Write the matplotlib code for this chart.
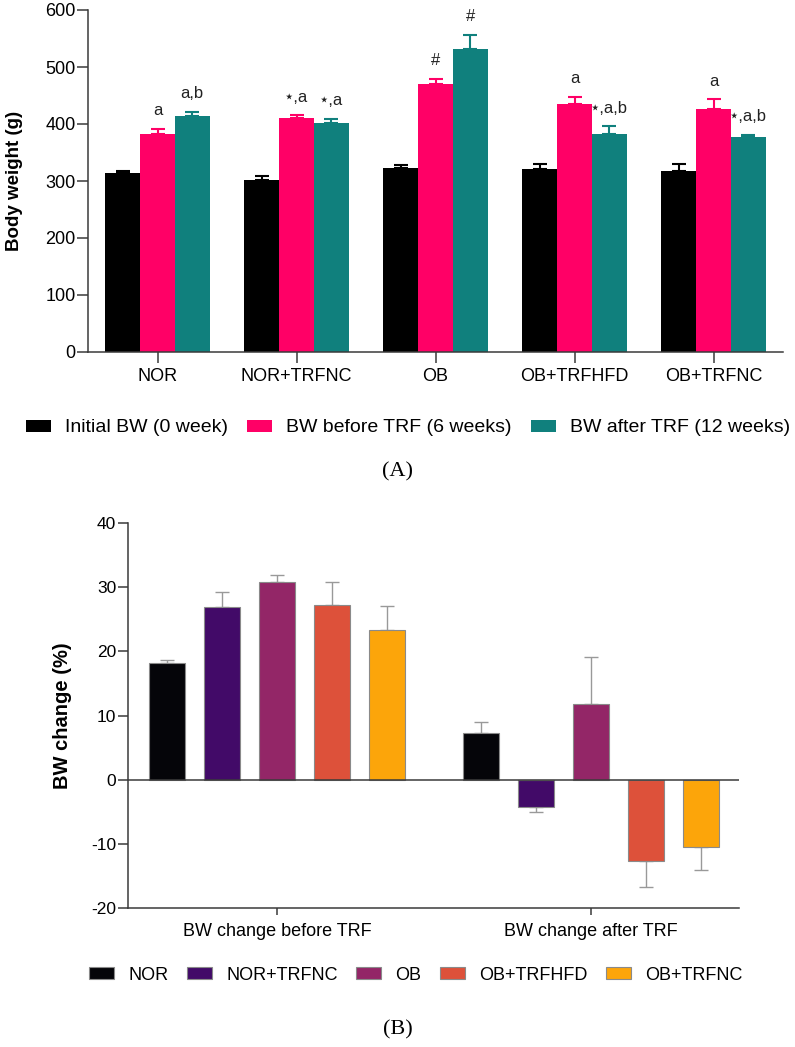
import matplotlib
matplotlib.use('Agg')
from matplotlib import pyplot as plt
import numpy as np

plt.rcParams['font.family'] = ['Liberation Sans', 'DejaVu Sans']
plt.rcParams['axes.unicode_minus'] = False

# Painel A - peso corporal (g)
groups = ['NOR', 'NOR+TRFNC', 'OB', 'OB+TRFHFD', 'OB+TRFNC']
initial_bw = [314, 302, 323, 321, 318]
initial_err = [4, 7, 5, 8, 12]
before_bw = [382, 411, 470, 435, 426]
before_err = [9, 4, 9, 12, 17]
after_bw = [414, 401, 532, 382, 377]
after_err = [7, 8, 24, 14, 4]
before_marks = ['a', '\u22c6,a', '#', 'a', 'a']
after_marks = ['a,b', '\u22c6,a', '#', '\u22c6,a,b', '\u22c6,a,b']
series_a = ['Initial BW (0 week)', 'BW before TRF (6 weeks)', 'BW after TRF (12 weeks)']

# Painel B - variacao do peso (%)
periods = ['BW change before TRF', 'BW change after TRF']
change_before = [18.2, 26.9, 30.8, 27.2, 23.3]
change_before_err = [0.4, 2.3, 1.1, 3.6, 3.7]
change_after = [7.3, -4.3, 11.8, -12.6, -10.5]
change_after_err = [1.7, 0.8, 7.3, 4.2, 3.5]

cores_a = ['#000000', '#ff0066', '#10807d']
cores_b = ['#050509', '#420a68', '#932667', '#dd513a', '#fca50a']
eixo = '#3a3a3a'

fig = plt.figure(figsize=(7.95, 10.47), dpi=100)

# ---------------- Painel A ----------------
axA = fig.add_axes([88/795, 1-352/1047, 695/795, 342/1047])
x = np.arange(len(groups))
w = 0.25
dados = [(initial_bw, initial_err), (before_bw, before_err), (after_bw, after_err)]
for i, (vals, errs) in enumerate(dados):
    pos = x + (i-1)*w
    axA.bar(pos, vals, w, color=cores_a[i], label=series_a[i], zorder=2)
    axA.errorbar(pos, vals, yerr=[np.zeros(len(errs)), errs], fmt='none',
                 ecolor=cores_a[i], elinewidth=1.5, capsize=5, capthick=1.5, zorder=1)

for j in range(len(groups)):
    for i, (marks, vals, errs) in enumerate([(before_marks, before_bw, before_err),
                                              (after_marks, after_bw, after_err)]):
        axA.text(x[j] + i*w, vals[j] + errs[j] + 32, marks[j], ha='center', va='center',
                 fontsize=12, color='#222222')

axA.set_xlim(-0.5, 4.5)
axA.set_ylim(0, 600)
axA.set_yticks(range(0, 601, 100))
axA.set_xticks(x)
axA.set_xticklabels(groups, fontsize=13)
axA.tick_params(axis='y', labelsize=13, length=8, width=1.1, color=eixo, pad=1)
axA.tick_params(axis='x', length=8, width=1.1, color=eixo, pad=3.5)
for s in ['top', 'right']:
    axA.spines[s].set_visible(False)
for s in ['left', 'bottom']:
    axA.spines[s].set_color(eixo)
    axA.spines[s].set_linewidth(1.1)
axA.set_ylabel('Body weight (g)', fontsize=13.5, fontweight='bold')
axA.yaxis.set_label_coords(-0.093, 0.5)

hA, lA = axA.get_legend_handles_labels()
fig.legend(hA, lA, loc='center', bbox_to_anchor=(0.513, 1-428/1047), ncol=3,
           frameon=False, fontsize=14, handlelength=1.3, handleheight=0.57,
           handletextpad=0.7, columnspacing=1.0)
fig.text(0.5, 1-472/1047, '(A)', ha='center', va='center', fontsize=16,
         family='Liberation Serif')

# ---------------- Painel B ----------------
axB = fig.add_axes([128/795, 1-908/1047, 611/795, 385/1047])
xb = np.arange(len(periods))
wb = 0.115
passo = 0.175
for k in range(len(groups)):
    vals = np.array([change_before[k], change_after[k]])
    errs = np.array([change_before_err[k], change_after_err[k]])
    pos = xb + (k-2)*passo
    axB.bar(pos, vals, wb, color=cores_b[k], edgecolor='#8a8a8a', linewidth=0.8,
            label=groups[k], zorder=2)
    lower = np.where(vals < 0, errs, 0)
    upper = np.where(vals >= 0, errs, 0)
    axB.errorbar(pos, vals, yerr=[lower, upper], fmt='none', ecolor='#999999',
                 elinewidth=1, capsize=5, capthick=1, zorder=1)

axB.axhline(0, color=eixo, lw=1.1, zorder=3)
axB.set_xlim(-0.475, 1.471)
axB.set_ylim(-20, 40)
axB.set_yticks(range(-20, 41, 10))
axB.set_xticks(xb)
axB.set_xticklabels(periods, fontsize=13)
axB.tick_params(axis='y', labelsize=12.5, length=7, width=1.1, color=eixo, pad=1.5)
axB.tick_params(axis='x', length=5, width=1.1, color=eixo, pad=6)
for s in ['top', 'right']:
    axB.spines[s].set_visible(False)
for s in ['left', 'bottom']:
    axB.spines[s].set_color(eixo)
    axB.spines[s].set_linewidth(1.1)
axB.set_ylabel('BW change (%)', fontsize=14.5, fontweight='bold')
axB.yaxis.set_label_coords(-0.092, 0.5)

hB, lB = axB.get_legend_handles_labels()
fig.legend(hB, lB, loc='center', bbox_to_anchor=(0.523, 1-975/1047), ncol=5,
           frameon=False, fontsize=13, handlelength=1.4, handleheight=0.6,
           handletextpad=0.8, columnspacing=1.0)
fig.text(0.5, 1-1030/1047, '(B)', ha='center', va='center', fontsize=16,
         family='Liberation Serif')

fig.savefig('out.png', dpi=100)
